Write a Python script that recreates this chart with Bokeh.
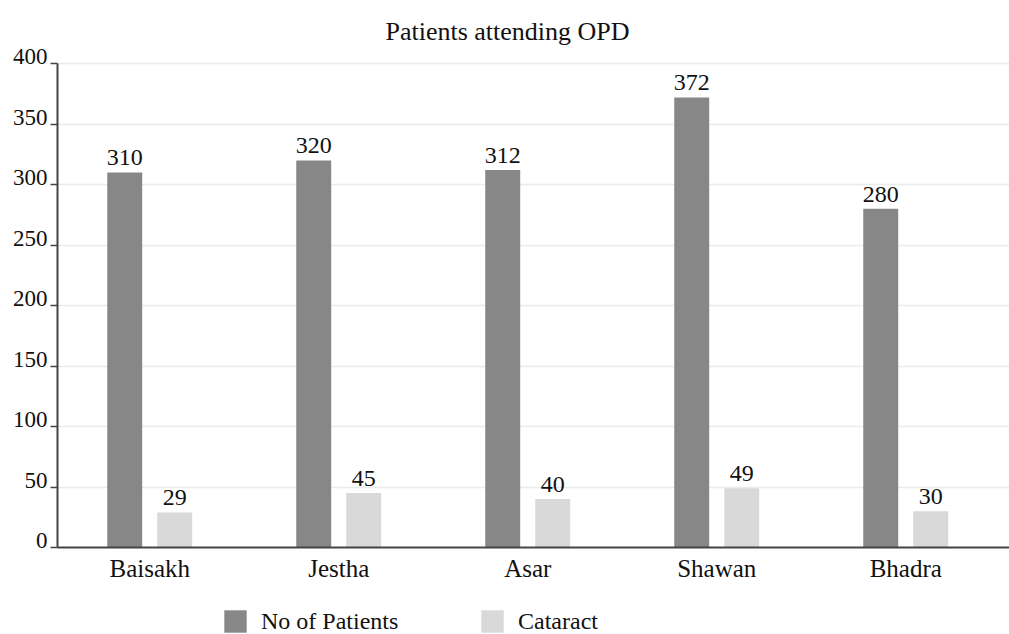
from bokeh.plotting import figure
from bokeh.layouts import column
from bokeh.models import (ColumnDataSource, Range1d, FixedTicker, Legend, LegendItem, Title,
                          LinearAxis, LabelSet)
from bokeh.embed import file_html
from bokeh.resources import INLINE

months = ["Baisakh", "Jestha", "Asar", "Shawan", "Bhadra"]
patients = [310, 320, 312, 372, 280]
cataract = [29, 45, 40, 49, 30]
y_ticks = [0, 50, 100, 150, 200, 250, 300, 350, 400]
series_names = ["No of Patients", "Cataract"]

FONT = "Liberation Serif"
DARK = "#878787"
LIGHT = "#d9d9d9"
TXT = "#111111"
AX = "#444444"

centers = [i + 0.5 for i in range(len(months))]
off = 0.1323
bw = 0.185

src = ColumnDataSource(dict(
    xd=[c - off for c in centers],
    xl=[c + off for c in centers],
    patients=patients,
    cataract=cataract,
    pl=[str(v) for v in patients],
    cl=[str(v) for v in cataract],
))

# geometry
FIG_W, FIG_H, LEG_H = 1009, 590, 44
B_LEFT, B_TOP, B_BOTTOM = 57, 51, 43
Y_AX_MAX = 400            # axis / grid end
Y_RANGE_MAX = 410         # a little headroom above the axis so top tick label shows
frame_h = FIG_H - B_TOP - B_BOTTOM
px_per_unit = frame_h / Y_RANGE_MAX
shift_units = 7 / px_per_unit

p = figure(width=FIG_W, height=FIG_H, output_backend="svg", toolbar_location=None,
           x_range=Range1d(0.012, 5.049), y_range=Range1d(0, Y_RANGE_MAX),
           min_border_left=B_LEFT, min_border_right=0, min_border_top=B_TOP,
           min_border_bottom=B_BOTTOM)
p.outline_line_color = None
p.background_fill_color = "white"
p.border_fill_color = "white"

p.title = Title(text="Patients attending OPD", align="left", offset=328,
                vertical_align="top",
                text_font=FONT, text_font_size="26px", text_font_style="normal",
                text_color=TXT, standoff=8)

r1 = p.vbar(x="xd", top="patients", width=bw, bottom=0, source=src,
            fill_color=DARK, line_color=None)
r2 = p.vbar(x="xl", top="cataract", width=bw, bottom=0, source=src,
            fill_color=LIGHT, line_color=None)

for xcol, ycol, tcol in [("xd", "patients", "pl"), ("xl", "cataract", "cl")]:
    p.add_layout(LabelSet(x=xcol, y=ycol, text=tcol, source=src, text_align="center",
                          text_baseline="alphabetic", y_offset=7, text_font=FONT,
                          text_font_size="24px", text_color=TXT))

# x axis
xa = p.xaxis[0]
xa.ticker = FixedTicker(ticks=centers)
xa.major_label_overrides = {c: m for c, m in zip(centers, months)}
xa.major_tick_line_color = None
xa.minor_tick_line_color = None
xa.major_label_standoff = 1
xa.axis_line_color = AX
xa.axis_line_width = 2
xa.major_label_text_font = FONT
xa.major_label_text_font_size = "25px"
xa.major_label_text_color = TXT

# y axis: line + ticks only
ya = p.yaxis[0]
ya.ticker = FixedTicker(ticks=y_ticks)
ya.bounds = (0, Y_AX_MAX)
ya.minor_tick_line_color = None
ya.major_tick_in = 0
ya.major_tick_out = 7
ya.major_tick_line_color = AX
ya.major_tick_line_width = 1.5
ya.axis_line_color = AX
ya.axis_line_width = 2
ya.major_label_standoff = 0
ya.major_label_overrides = {t: "" for t in y_ticks}
ya.major_label_text_font_size = "1px"

# y tick labels sit just above their ticks: a label-only axis on a shifted range
p.extra_y_ranges = {"labels": Range1d(-shift_units, Y_RANGE_MAX - shift_units)}
la = LinearAxis(y_range_name="labels", ticker=FixedTicker(ticks=y_ticks))
la.axis_line_color = None
la.major_tick_line_color = None
la.minor_tick_line_color = None
la.major_tick_in = 0
la.major_tick_out = 0
la.major_label_standoff = 3
la.major_label_text_font = FONT
la.major_label_text_font_size = "23px"
la.major_label_text_color = TXT
p.add_layout(la, "left")

p.xgrid.grid_line_color = None
p.ygrid.grid_line_color = "#ebebeb"
p.ygrid.grid_line_width = 1.5

# legend strip below the chart
lf = figure(width=FIG_W, height=LEG_H, output_backend="svg", toolbar_location=None,
            x_range=Range1d(0, 1), y_range=Range1d(0, 1),
            x_axis_type=None, y_axis_type=None,
            min_border_left=B_LEFT, min_border_right=0, min_border_top=0, min_border_bottom=0)
lf.outline_line_color = None
lf.xgrid.grid_line_color = None
lf.ygrid.grid_line_color = None
lr1 = lf.vbar(x="xd", top="patients", width=bw, source=src, fill_color=DARK,
              line_color=None, visible=False)
lr2 = lf.vbar(x="xl", top="cataract", width=bw, source=src, fill_color=LIGHT,
              line_color=None, visible=False)

for name, rend, xpos in [(series_names[0], lr1, 164), (series_names[1], lr2, 421)]:
    lg = Legend(items=[LegendItem(label=name, renderers=[rend])],
                location=(xpos, -1),
                glyph_width=28, glyph_height=28, label_height=28,
                label_standoff=12, padding=0, margin=0, border_line_color=None,
                background_fill_alpha=0, inactive_fill_alpha=0,
                label_text_font=FONT,
                label_text_font_size="24px", label_text_color=TXT)
    lf.add_layout(lg, "center")

layout = column(p, lf, spacing=0)
open("out.html", "w").write(file_html(layout, INLINE))
